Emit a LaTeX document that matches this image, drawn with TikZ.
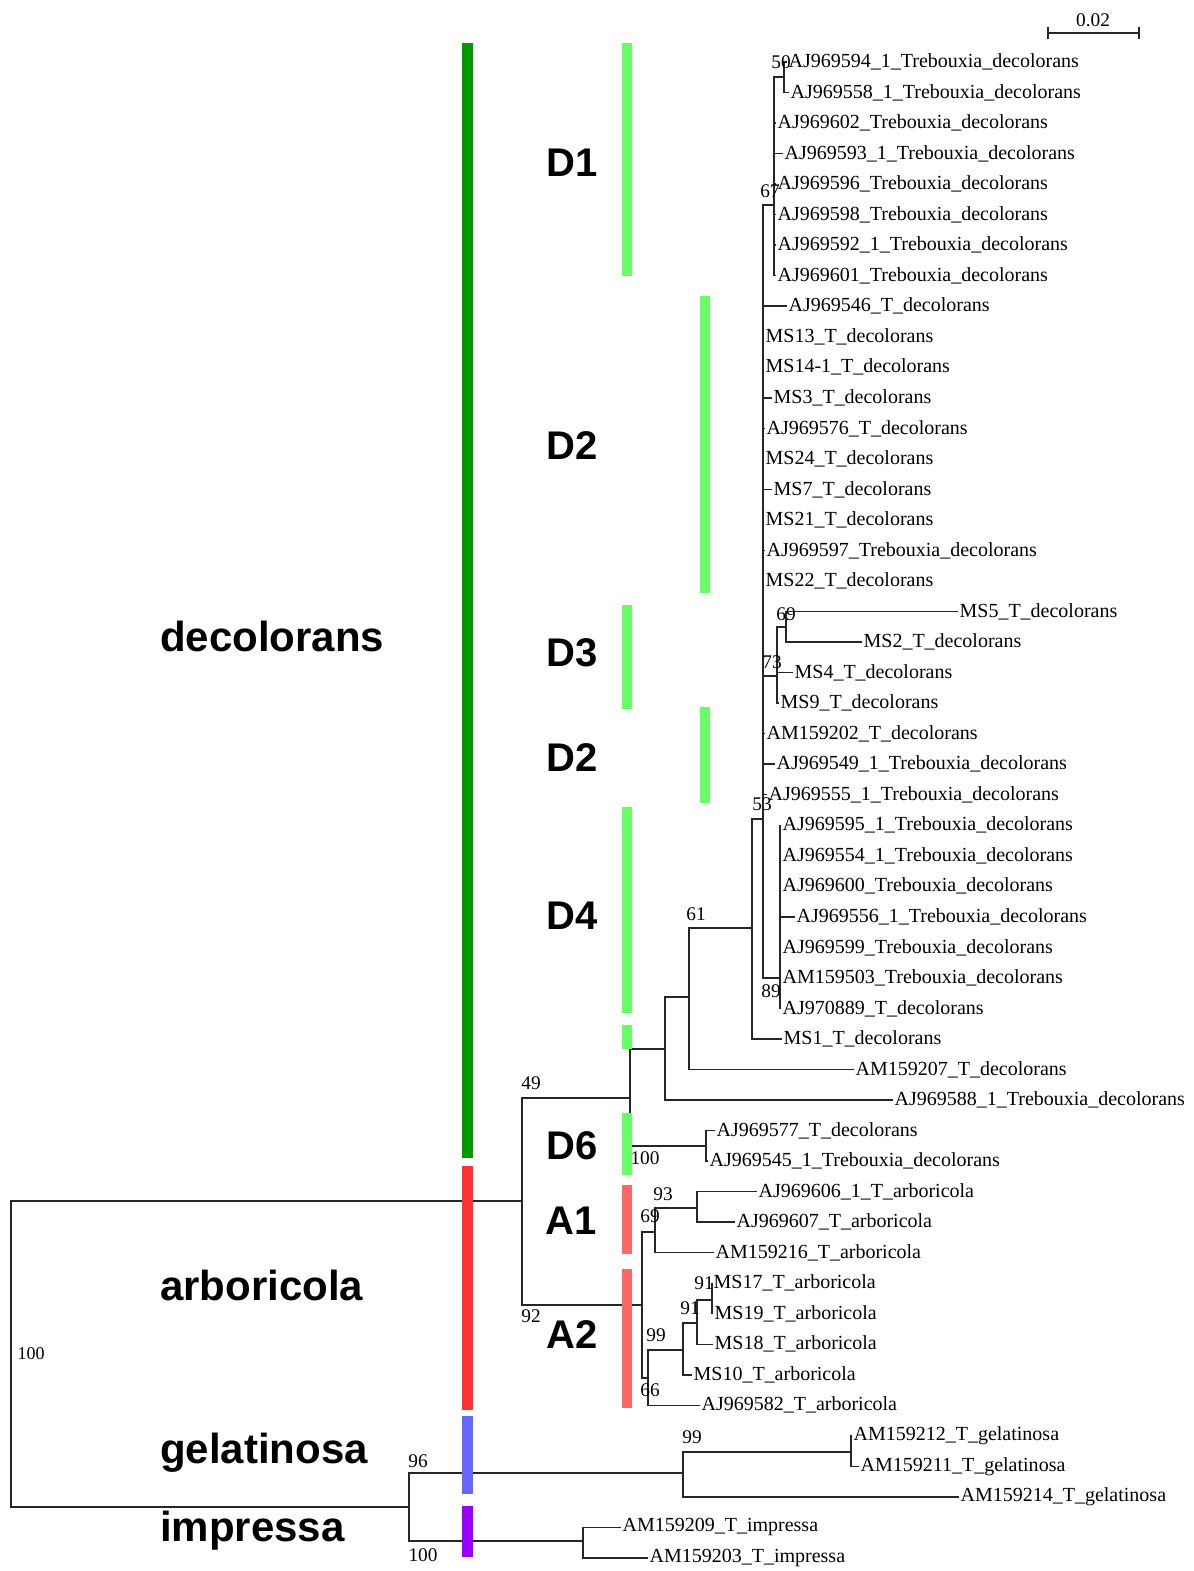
\documentclass[tikz,border=0pt]{standalone}
\usepackage{fontspec}
\setmainfont{Liberation Serif}
\newfontfamily\arialfont{Liberation Sans}
\definecolor{dkgreen}{RGB}{0,153,0}
\definecolor{ltgreen}{RGB}{102,255,102}
\definecolor{arbred}{RGB}{255,51,51}
\definecolor{ltred}{RGB}{255,102,102}
\definecolor{gelblue}{RGB}{102,102,255}
\definecolor{imppurple}{RGB}{153,0,255}
\newcommand\leafnode[5]{\node[leaf] (#1) at (#3,#4) {#5}; \draw[branch] (#2) |- (#1.west);}
\begin{document}
\begin{tikzpicture}[x=0.75pt,y=-0.75pt,
  branch/.style={line width=1.1pt,black!85},
  leaf/.style={anchor=west,inner sep=1pt,font=\fontsize{15}{18}\selectfont},
  boot/.style={inner sep=0pt,font=\fontsize{14.5}{17}\selectfont},
  bigname/.style={anchor=base west,inner sep=0pt,font=\arialfont\bfseries\fontsize{31.5}{36}\selectfont},
  cladename/.style={inner sep=0pt,font=\arialfont\bfseries\fontsize{30}{34}\selectfont}]
\useasboundingbox (0,0) rectangle (1193,1571);

% internal nodes
\coordinate (root) at (11,1354);
\coordinate (nIng) at (522,1201);
\coordinate (nDec) at (630,1098);
\coordinate (nA) at (665,1049);
\coordinate (n61) at (689,997);
\coordinate (nB) at (752,928);
\coordinate (n53) at (763,819);
\coordinate (n67) at (774,205);
\coordinate (n50) at (784,77);
\coordinate (n73) at (777,676);
\coordinate (n69) at (786,627);
\coordinate (n89) at (780,978);
\coordinate (nD6) at (706,1146);
\coordinate (nArb) at (642,1305);
\coordinate (nA1) at (655,1232);
\coordinate (n93) at (697,1208);
\coordinate (n66) at (648,1378);
\coordinate (n99a) at (683,1350);
\coordinate (n91b) at (697,1323);
\coordinate (n91a) at (712,1300);
\coordinate (nGI) at (409,1507);
\coordinate (nGel) at (683,1473);
\coordinate (n99g) at (851,1452);
\coordinate (nImp) at (583,1541);

% internal branches
\draw[branch] (root) |- (nIng);
\draw[branch] (root) |- (nGI);
\draw[branch] (nIng) |- (nDec);
\draw[branch] (nIng) |- (nArb);
\draw[branch] (nDec) |- (nA);
\draw[branch] (nDec) |- (nD6);
\draw[branch] (nA) |- (n61);
\draw[branch] (n61) |- (nB);
\draw[branch] (nB) |- (n53);
\draw[branch] (n53) |- (n67);
\draw[branch] (n67) |- (n50);
\draw[branch] (n53) |- (n73);
\draw[branch] (n73) |- (n69);
\draw[branch] (n53) |- (n89);
\draw[branch] (nArb) |- (nA1);
\draw[branch] (nA1) |- (n93);
\draw[branch] (nArb) |- (n66);
\draw[branch] (n66) |- (n99a);
\draw[branch] (n99a) |- (n91b);
\draw[branch] (n91b) |- (n91a);
\draw[branch] (nGI) |- (nGel);
\draw[branch] (nGel) |- (n99g);
\draw[branch] (nGI) |- (nImp);

% leaves
\leafnode{l1}{n50}{787}{62}{AJ969594\_1\_Trebouxia\_decolorans}
\leafnode{l2}{n50}{789}{92.5}{AJ969558\_1\_Trebouxia\_decolorans}
\leafnode{l3}{n67}{776}{123.1}{AJ969602\_Trebouxia\_decolorans}
\leafnode{l4}{n67}{783}{153.6}{AJ969593\_1\_Trebouxia\_decolorans}
\leafnode{l5}{n67}{776}{184.1}{AJ969596\_Trebouxia\_decolorans}
\leafnode{l6}{n67}{776}{214.7}{AJ969598\_Trebouxia\_decolorans}
\leafnode{l7}{n67}{776}{245.2}{AJ969592\_1\_Trebouxia\_decolorans}
\leafnode{l8}{n67}{776}{275.7}{AJ969601\_Trebouxia\_decolorans}
\leafnode{l9}{n53}{787}{306.2}{AJ969546\_T\_decolorans}
\leafnode{l10}{n53}{764}{336.8}{MS13\_T\_decolorans}
\leafnode{l11}{n53}{764}{367.3}{MS14-1\_T\_decolorans}
\leafnode{l12}{n53}{772}{397.8}{MS3\_T\_decolorans}
\leafnode{l13}{n53}{765}{428.4}{AJ969576\_T\_decolorans}
\leafnode{l14}{n53}{764}{458.9}{MS24\_T\_decolorans}
\leafnode{l15}{n53}{772}{489.4}{MS7\_T\_decolorans}
\leafnode{l16}{n53}{764}{520.0}{MS21\_T\_decolorans}
\leafnode{l17}{n53}{765}{550.5}{AJ969597\_Trebouxia\_decolorans}
\leafnode{l18}{n53}{764}{581.0}{MS22\_T\_decolorans}
\leafnode{l19}{n69}{958}{611.5}{MS5\_T\_decolorans}
\leafnode{l20}{n69}{862}{642.1}{MS2\_T\_decolorans}
\leafnode{l21}{n73}{793}{672.6}{MS4\_T\_decolorans}
\leafnode{l22}{n73}{779}{703.1}{MS9\_T\_decolorans}
\leafnode{l23}{n53}{765}{733.7}{AM159202\_T\_decolorans}
\leafnode{l24}{n53}{775}{764.2}{AJ969549\_1\_Trebouxia\_decolorans}
\leafnode{l25}{n53}{767}{794.7}{AJ969555\_1\_Trebouxia\_decolorans}
\leafnode{l26}{n89}{781}{825.3}{AJ969595\_1\_Trebouxia\_decolorans}
\leafnode{l27}{n89}{781}{855.8}{AJ969554\_1\_Trebouxia\_decolorans}
\leafnode{l28}{n89}{781}{886.3}{AJ969600\_Trebouxia\_decolorans}
\leafnode{l29}{n89}{795}{916.8}{AJ969556\_1\_Trebouxia\_decolorans}
\leafnode{l30}{n89}{781}{947.4}{AJ969599\_Trebouxia\_decolorans}
\leafnode{l31}{n89}{781}{977.9}{AM159503\_Trebouxia\_decolorans}
\leafnode{l32}{n89}{781}{1008.4}{AJ970889\_T\_decolorans}
\leafnode{l33}{nB}{782}{1039.0}{MS1\_T\_decolorans}
\leafnode{l34}{n61}{854}{1069.5}{AM159207\_T\_decolorans}
\leafnode{l35}{nA}{893}{1100.0}{AJ969588\_1\_Trebouxia\_decolorans}
\leafnode{l36}{nD6}{715}{1130.6}{AJ969577\_T\_decolorans}
\leafnode{l37}{nD6}{708}{1161.1}{AJ969545\_1\_Trebouxia\_decolorans}
\leafnode{l38}{n93}{757}{1191.6}{AJ969606\_1\_T\_arboricola}
\leafnode{l39}{n93}{735}{1222.1}{AJ969607\_T\_arboricola}
\leafnode{l40}{nA1}{714}{1252.7}{AM159216\_T\_arboricola}
\leafnode{l41}{n91a}{712}{1283.2}{MS17\_T\_arboricola}
\leafnode{l42}{n91a}{713}{1313.7}{MS19\_T\_arboricola}
\leafnode{l43}{n91b}{713}{1344.3}{MS18\_T\_arboricola}
\leafnode{l44}{n99a}{692}{1374.8}{MS10\_T\_arboricola}
\leafnode{l45}{n66}{700}{1405.3}{AJ969582\_T\_arboricola}
\leafnode{l46}{n99g}{852}{1435.9}{AM159212\_T\_gelatinosa}
\leafnode{l47}{n99g}{859}{1466.4}{AM159211\_T\_gelatinosa}
\leafnode{l48}{nGel}{959}{1496.9}{AM159214\_T\_gelatinosa}
\leafnode{l49}{nImp}{621}{1527.4}{AM159209\_T\_impressa}
\leafnode{l50}{nImp}{648}{1558.0}{AM159203\_T\_impressa}

% bootstrap values
\node[boot] (b50) at (781,62) {50};
\node[boot] (b67) at (770,191) {67};
\node[boot] (b69) at (786,614) {69};
\node[boot] (b73) at (772,662) {73};
\node[boot] (b53) at (762,804) {53};
\node[boot] (b89) at (771,991) {89};
\node[boot] (b61) at (696,914) {61};
\node[boot] (b49) at (531,1083) {49};
\node[boot] (b100d) at (645,1158) {100};
\node[boot] (b93) at (663,1194) {93};
\node[boot] (b69a) at (650,1216) {69};
\node[boot] (b91a) at (704,1283) {91};
\node[boot] (b91b) at (690,1308) {91};
\node[boot] (b99a) at (656,1335) {99};
\node[boot] (b66) at (650,1390) {66};
\node[boot] (b92) at (531,1316) {92};
\node[boot,font=\fontsize{13.5}{16}\selectfont] (b100r) at (31,1354) {100};
\node[boot] (b96) at (418,1461) {96};
\node[boot] (b100i) at (423,1555) {100};
\node[boot] (b99g) at (692,1437) {99};

% scale bar
\coordinate (sbL) at (1048,33);
\coordinate (sbR) at (1139,33);
\draw[branch] (sbL) -- (sbR);
\draw[branch] ([yshift=-6*0.75pt]sbL) -- ([yshift=6*0.75pt]sbL);
\draw[branch] ([yshift=-6*0.75pt]sbR) -- ([yshift=6*0.75pt]sbR);
\node[boot] (sblabel) at (1093,20) {0.02};

% colour bars
\fill[dkgreen] (462,43) rectangle (473,1158);
\fill[arbred] (462,1166) rectangle (473,1410);
\fill[gelblue] (462,1416) rectangle (473,1494);
\fill[imppurple] (462,1506) rectangle (473,1557);
\fill[ltgreen] (622,43) rectangle (632,276);
\fill[ltgreen] (622,605) rectangle (632,709);
\fill[ltgreen] (622,807) rectangle (632,1013);
\fill[ltgreen] (622,1025) rectangle (632,1049);
\fill[ltgreen] (622,1113) rectangle (632,1175);
\fill[ltgreen] (700,296) rectangle (710,593);
\fill[ltgreen] (700,707) rectangle (710,803);
\fill[ltred] (622,1185) rectangle (632,1254);
\fill[ltred] (622,1269) rectangle (632,1408);

% group names
\node[bigname] (gdec) at (160,651) {decolorans};
\node[bigname] (garb) at (160,1300) {arboricola};
\node[bigname] (ggel) at (160,1463) {gelatinosa};
\node[bigname] (gimp) at (160,1541) {impressa};

% clade names
\node[cladename] (cD1) at (572,163) {D1};
\node[cladename] (cD2a) at (572,446) {D2};
\node[cladename] (cD3) at (572,653) {D3};
\node[cladename] (cD2b) at (572,758) {D2};
\node[cladename] (cD4) at (572,916) {D4};
\node[cladename] (cD6) at (572,1146) {D6};
\node[cladename] (cA1) at (571,1221) {A1};
\node[cladename] (cA2) at (572,1335) {A2};
\end{tikzpicture}
\end{document}
